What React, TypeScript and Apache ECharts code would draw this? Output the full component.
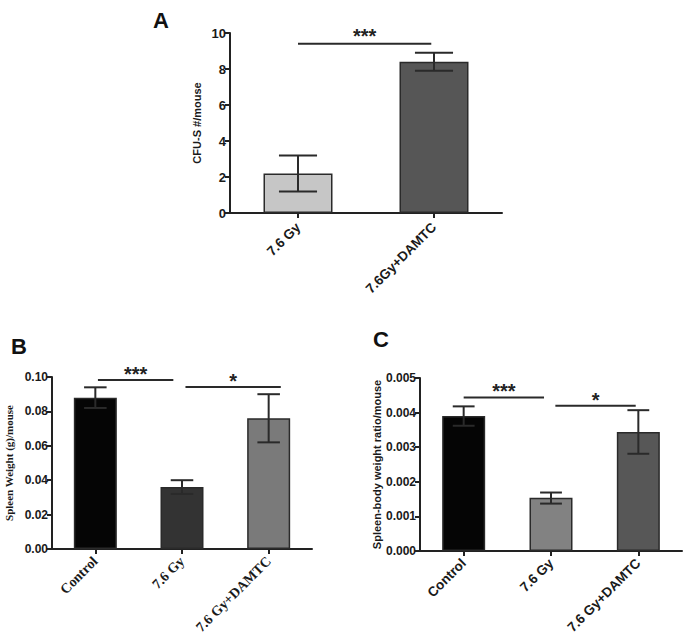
import React, { useEffect, useRef } from "react";
import * as echarts from "echarts";

// Panel A
const catsA = ["7.6 Gy", "7.6Gy+DAMTC"];
const meanA = [2.2, 8.4];
const lowA = [1.2, 7.9];
const highA = [3.2, 8.9];
const colorsA = ["#c6c6c6", "#565656"];
// significance: [anchorCat, y, fromShift, toShift]
const sigA = [[0, 9.4, 0.0, 0.98]];
const sigLabelsA = ["***"];

// Panel B
const catsB = ["Control", "7.6 Gy", "7.6 Gy+DAMTC"];
const meanB = [0.088, 0.036, 0.076];
const lowB = [0.082, 0.032, 0.062];
const highB = [0.094, 0.04, 0.09];
const colorsB = ["#050505", "#333333", "#7a7a7a"];
const sigB = [
  [0, 0.0983, 0.03, 0.9],
  [0, 0.0942, 1.04, 2.14],
];
const sigLabelsB = ["***", "*"];

// Panel C
const catsC = ["Control", "7.6 Gy", "7.6 Gy+DAMTC"];
const meanC = [0.0039, 0.00154, 0.00344];
const lowC = [0.00362, 0.00137, 0.00281];
const highC = [0.00418, 0.00169, 0.00407];
const colorsC = ["#050505", "#828282", "#575757"];
const sigC = [
  [0, 0.00444, 0.0, 0.92],
  [0, 0.0042, 1.05, 1.97],
];
const sigLabelsC = ["***", "*"];

const SANS = "Liberation Sans, Arial, sans-serif";
const SERIF = "Liberation Serif, Times New Roman, serif";
const INK = "#1a1a1a";

function errSeries(idx: number, low: number[], high: number[], capFrac: number) {
  return {
    type: "custom",
    xAxisIndex: idx,
    yAxisIndex: idx,
    z: 5,
    encode: { x: 0, y: [1, 2] },
    data: low.map((l, i) => [i, l, high[i]]),
    renderItem: (params: any, api: any) => {
      const i = api.value(0);
      const pl = api.coord([i, api.value(1)]);
      const ph = api.coord([i, api.value(2)]);
      const half = (api.size([1, 0])[0] * capFrac) / 2;
      const st = { stroke: "#2a2a2a", lineWidth: 2 };
      return {
        type: "group",
        children: [
          { type: "line", shape: { x1: pl[0], y1: pl[1], x2: ph[0], y2: ph[1] }, style: st },
          { type: "line", shape: { x1: ph[0] - half, y1: ph[1], x2: ph[0] + half, y2: ph[1] }, style: st },
          { type: "line", shape: { x1: pl[0] - half, y1: pl[1], x2: pl[0] + half, y2: pl[1] }, style: st },
        ],
      };
    },
  };
}

function sigSeries(idx: number, sig: number[][], labels: string[], gap: number) {
  return {
    type: "custom",
    xAxisIndex: idx,
    yAxisIndex: idx,
    z: 6,
    clip: false,
    encode: { x: 0, y: 1 },
    data: sig,
    renderItem: (params: any, api: any) => {
      const y = api.value(1);
      const p0 = api.coord([api.value(0), y]);
      const band = api.size([1, 0])[0];
      const x1 = p0[0] + api.value(2) * band;
      const x2 = p0[0] + api.value(3) * band;
      return {
        type: "group",
        children: [
          {
            type: "line",
            shape: { x1, y1: p0[1], x2, y2: p0[1] },
            style: { stroke: "#2a2a2a", lineWidth: 2 },
          },
          {
            type: "text",
            style: {
              text: labels[params.dataIndex],
              x: (x1 + x2) / 2,
              y: p0[1] - gap,
              textAlign: "center",
              align: "center",
              textVerticalAlign: "middle",
              verticalAlign: "middle",
              font: `bold 20px ${SANS}`,
              fill: "#222",
            },
          },
        ],
      };
    },
  };
}

function barSeries(idx: number, mean: number[], colors: string[], width: number) {
  return {
    type: "bar",
    xAxisIndex: idx,
    yAxisIndex: idx,
    barWidth: width,
    z: 2,
    data: mean.map((v, i) => ({
      value: v,
      itemStyle: { color: colors[i], borderColor: "#2a2a2a", borderWidth: 1.5 },
    })),
  };
}

function xAxis(idx: number, cats: string[], font: string, size: number, margin: number) {
  return {
    type: "category",
    gridIndex: idx,
    data: cats,
    axisLine: { show: true, lineStyle: { color: "#222", width: 2 } },
    axisTick: { show: true, alignWithLabel: true, length: 5, lineStyle: { color: "#222", width: 2 } },
    axisLabel: {
      rotate: 45,
      margin,
      interval: 0,
      color: INK,
      fontWeight: "bold",
      fontFamily: font,
      fontSize: size,
    },
    splitLine: { show: false },
  };
}

function yAxis(
  idx: number,
  max: number,
  interval: number,
  digits: number,
  name: string,
  nameFont: string,
  nameGap: number,
  labelSize: number
) {
  return {
    type: "value",
    gridIndex: idx,
    min: 0,
    max,
    interval,
    name,
    nameLocation: "middle",
    nameGap,
    nameRotate: 90,
    nameTextStyle: { color: INK, fontWeight: "bold", fontFamily: nameFont, fontSize: 11 },
    axisLine: { show: true, lineStyle: { color: "#222", width: 2 } },
    axisTick: { show: true, length: 5, lineStyle: { color: "#222", width: 2 } },
    axisLabel: {
      color: INK,
      fontWeight: "bold",
      fontFamily: SANS,
      fontSize: labelSize,
      margin: 4,
      formatter: (v: number) => v.toFixed(digits),
    },
    splitLine: { show: false },
  };
}

export default function App() {
  const ref = useRef<HTMLDivElement>(null);
  useEffect(() => {
    if (!ref.current) return;
    const chart = echarts.init(ref.current, undefined, { renderer: "svg" });
    chart.setOption({
      animation: false,
      backgroundColor: "#ffffff",
      title: [
        { text: "A", left: 148, top: 4, textStyle: { fontFamily: SANS, fontWeight: "bold", fontSize: 22, color: "#111" } },
        { text: "B", left: 6, top: 330, textStyle: { fontFamily: SANS, fontWeight: "bold", fontSize: 22, color: "#111" } },
        { text: "C", left: 368, top: 323, textStyle: { fontFamily: SANS, fontWeight: "bold", fontSize: 22, color: "#111" } },
      ],
      grid: [
        { left: 230, top: 33, width: 272, height: 180 },
        { left: 52, top: 377, width: 260, height: 172 },
        { left: 420, top: 378, width: 262, height: 173 },
      ],
      xAxis: [
        xAxis(0, catsA, SANS, 13.5, 12),
        xAxis(1, catsB, SERIF, 14, 10),
        xAxis(2, catsC, SANS, 13.5, 10),
      ],
      yAxis: [
        yAxis(0, 10, 2, 0, "CFU-S #/mouse", SANS, 28, 13),
        yAxis(1, 0.1, 0.02, 2, "Spleen Weight (g)/mouse", SERIF, 38, 12),
        yAxis(2, 0.005, 0.001, 3, "Spleen-body weight ratio/mouse", SANS, 34, 12),
      ],
      series: [
        barSeries(0, meanA, colorsA, 69),
        errSeries(0, lowA, highA, 0.28),
        sigSeries(0, sigA, sigLabelsA, 8),
        barSeries(1, meanB, colorsB, 43),
        errSeries(1, lowB, highB, 0.26),
        sigSeries(1, sigB, sigLabelsB, 6),
        barSeries(2, meanC, colorsC, 43),
        errSeries(2, lowC, highC, 0.25),
        sigSeries(2, sigC, sigLabelsC, 6),
      ],
    });
    return () => chart.dispose();
  }, []);
  return (
    <div
      ref={ref}
      style={{ position: "fixed", left: 0, top: 0, width: 685, height: 642, background: "#fff" }}
    />
  );
}
